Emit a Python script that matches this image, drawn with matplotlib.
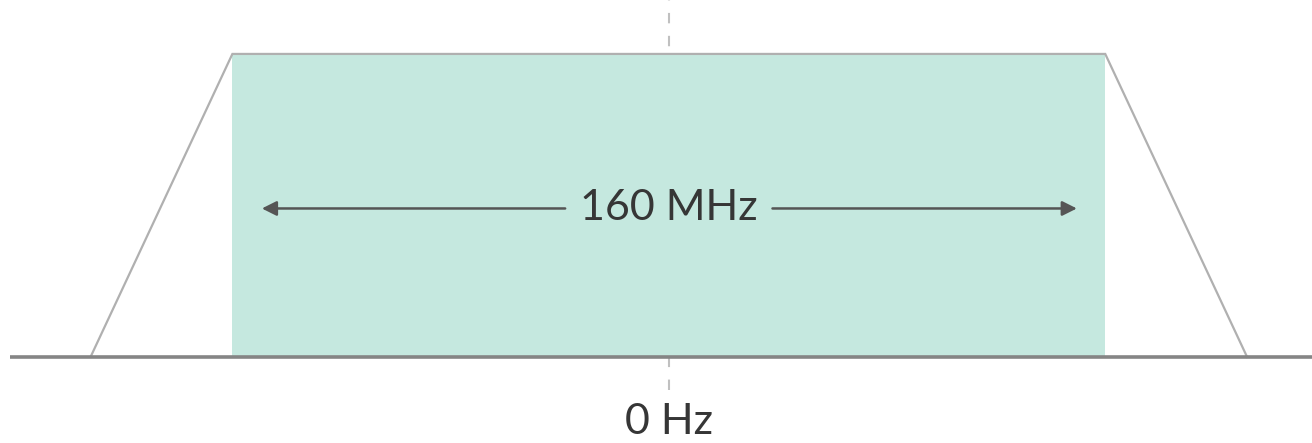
import numpy as np
import matplotlib.pyplot as plt

# frequency in MHz relative to centre, amplitude normalised
band_edges = [-80, 80]
skirt_edges = [-106, 106]
baseline_x = [-120.8, 118]
arrow_ends = [-74.6, 74.8]
band_label = "160 MHz"
centre_label = "0 Hz"

fig = plt.figure(figsize=(13.12, 4.43), dpi=100)
ax = fig.add_axes([0, 0, 1, 1])
ax.set_xlim(-122.6, 117.9)
ax.set_ylim(-0.284, 1.178)
ax.axis('off')

# centre dashed line, sits behind the filled band
ax.plot([0, 0], [-0.11, 1.18], color='#c0c0c0', lw=1.5, ls=(0, (5, 6)), zorder=0.5)

# filled band
ax.fill_between(band_edges, 0, 1, color='#c5e8df', lw=0, zorder=1)

# spectral mask outline
mask_x = [skirt_edges[0], band_edges[0], band_edges[1], skirt_edges[1]]
mask_y = [0, 1, 1, 0]
ax.plot(mask_x, mask_y, color='#b0b0b0', lw=1.6, zorder=2, solid_joinstyle='miter')

# baseline
ax.plot(baseline_x, [0, 0], color='#858585', lw=2.6, zorder=3, solid_capstyle='butt')

# arrows
arrow_kw = dict(arrowstyle='-|>', color='#555555', lw=1.8, mutation_scale=22, shrinkA=0, shrinkB=0)
ax.annotate('', xy=(arrow_ends[0], 0.49), xytext=(-19, 0.49), arrowprops=arrow_kw, zorder=4)
ax.annotate('', xy=(arrow_ends[1], 0.49), xytext=(19, 0.49), arrowprops=arrow_kw, zorder=4)

font = dict(family=['Lato', 'DejaVu Sans'], fontweight='normal', color='#363636', fontsize=31)
ax.text(0, 0.49, band_label, ha='center', va='center', zorder=5, **font)
ax.text(0, -0.215, centre_label, ha='center', va='center', zorder=5, **font)

plt.savefig('out.png', dpi=100)
